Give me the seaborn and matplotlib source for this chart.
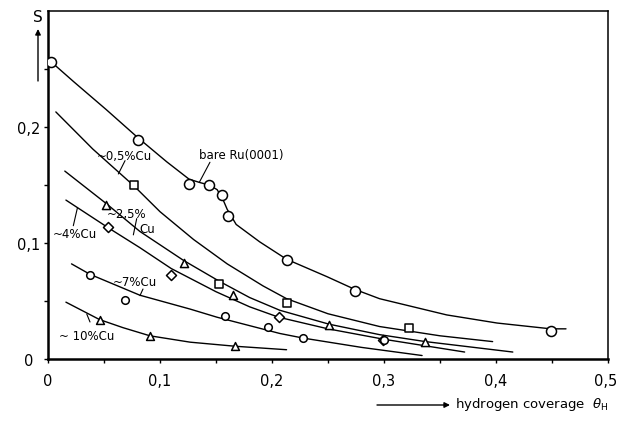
import matplotlib
matplotlib.use("Agg")
import matplotlib.pyplot as plt
import matplotlib.transforms as mtransforms
import seaborn as sns

# ---- measured points (hydrogen coverage, sticking coefficient S) ----
bare_x = [0.003, 0.080, 0.126, 0.144, 0.155, 0.161, 0.213, 0.274, 0.449]
bare_y = [0.256, 0.189, 0.151, 0.150, 0.141, 0.123, 0.085, 0.059, 0.024]

cu05_x = [0.077, 0.153, 0.213, 0.322]
cu05_y = [0.150, 0.065, 0.048, 0.027]

cu25_x = [0.052, 0.121, 0.165, 0.251, 0.337]
cu25_y = [0.133, 0.083, 0.055, 0.029, 0.015]

cu4_x = [0.054, 0.110, 0.206, 0.299]
cu4_y = [0.1135, 0.072, 0.036, 0.016]

cu7_x = [0.0375, 0.069, 0.158, 0.196, 0.228, 0.300]
cu7_y = [0.072, 0.051, 0.037, 0.028, 0.018, 0.016]

cu10_x = [0.046, 0.091, 0.167]
cu10_y = [0.034, 0.020, 0.0115]

# ---- hand-fitted guide curves ----
bare_fit_x = [0.003, 0.023, 0.052, 0.080, 0.106, 0.126, 0.136, 0.144, 0.151, 0.156,
              0.160, 0.168, 0.189, 0.213, 0.249, 0.274, 0.296, 0.356, 0.401, 0.449, 0.4625]
bare_fit_y = [0.256, 0.239, 0.215, 0.191, 0.170, 0.155, 0.152, 0.150, 0.146, 0.138,
              0.129, 0.116, 0.101, 0.086, 0.071, 0.060, 0.052, 0.038, 0.031, 0.026, 0.026]

cu05_fit_x = [0.007, 0.040, 0.077, 0.100, 0.130, 0.160, 0.192, 0.213, 0.250, 0.296, 0.350, 0.397]
cu05_fit_y = [0.213, 0.181, 0.149, 0.127, 0.103, 0.082, 0.063, 0.052, 0.039, 0.028, 0.020, 0.015]

cu25_fit_x = [0.015, 0.052, 0.082, 0.121, 0.153, 0.180, 0.207, 0.251, 0.296, 0.337, 0.415]
cu25_fit_y = [0.162, 0.134, 0.110, 0.085, 0.067, 0.053, 0.042, 0.030, 0.021, 0.015, 0.006]

cu4_fit_x = [0.016, 0.054, 0.082, 0.110, 0.150, 0.180, 0.206, 0.250, 0.300, 0.372]
cu4_fit_y = [0.137, 0.113, 0.096, 0.078, 0.058, 0.045, 0.036, 0.026, 0.017, 0.006]

cu7_fit_x = [0.021, 0.0375, 0.082, 0.127, 0.151, 0.171, 0.207, 0.228, 0.280, 0.334]
cu7_fit_y = [0.082, 0.073, 0.055, 0.043, 0.036, 0.031, 0.022, 0.018, 0.010, 0.003]

cu10_fit_x = [0.016, 0.046, 0.067, 0.091, 0.127, 0.167, 0.213]
cu10_fit_y = [0.049, 0.034, 0.027, 0.020, 0.0145, 0.0110, 0.008]

x_ticklabels = ["0", "0,1", "0,2", "0,3", "0,4", "0,5"]
y_ticklabels = ["0", "0,1", "0,2"]

sns.set_theme(style="ticks")
plt.rcParams["font.family"] = ["DejaVu Sans"]
plt.rcParams["text.color"] = "black"

W, H = 618, 427
fig = plt.figure(figsize=(W / 100, H / 100), dpi=100)
ax = fig.add_axes([48 / W, 1 - 360 / H, 560 / W, 348 / H])
ax.set_facecolor("white")

# guide curves
for fx, fy in [(bare_fit_x, bare_fit_y), (cu05_fit_x, cu05_fit_y), (cu25_fit_x, cu25_fit_y),
               (cu4_fit_x, cu4_fit_y), (cu7_fit_x, cu7_fit_y), (cu10_fit_x, cu10_fit_y)]:
    sns.lineplot(x=fx, y=fy, ax=ax, color="black", lw=1.0, sort=False,
                 estimator=None, legend=False, zorder=2)

# measured points, open symbols
series = [
    (bare_x, bare_y, "o", 52),
    (cu05_x, cu05_y, "s", 28),
    (cu25_x, cu25_y, "^", 34),
    (cu4_x, cu4_y, "D", 26),
    (cu7_x, cu7_y, "o", 30),
    (cu10_x, cu10_y, "^", 32),
]
for sx, sy, mk, sz in series:
    sns.scatterplot(x=sx, y=sy, ax=ax, marker=mk, s=sz, facecolor="white",
                    edgecolor="black", linewidth=1.1, legend=False, zorder=3)

ax.set_xlim(0, 0.5)
ax.set_ylim(0, 0.30)

ax.set_xticks([i * 0.05 for i in range(11)])
ax.set_xticklabels([x_ticklabels[i // 2] if i % 2 == 0 else "" for i in range(11)])
ax.set_yticks([i * 0.05 for i in range(6)])
ax.set_yticklabels([y_ticklabels[i // 2] if (i % 2 == 0 and i // 2 < len(y_ticklabels)) else ""
                    for i in range(6)])
ax.tick_params(axis="both", direction="out", length=3, width=1.0, colors="black",
               labelsize=10.5)
ax.tick_params(axis="x", pad=7)
ax.tick_params(axis="y", pad=11)
for t in ax.get_yticklabels():
    t.set_horizontalalignment("center")
# keep the last x label inside the canvas
last = ax.get_xticklabels()[-1]
last.set_horizontalalignment("right")
last.set_transform(last.get_transform() + mtransforms.ScaledTranslation(0.09, 0, fig.dpi_scale_trans))

for side in ["left", "bottom"]:
    ax.spines[side].set_linewidth(1.8)
for side in ["top", "right"]:
    ax.spines[side].set_visible(True)
    ax.spines[side].set_linewidth(1.1)
for sp in ax.spines.values():
    sp.set_color("black")
ax.set_xlabel("")
ax.set_ylabel("")

# curve labels with leader strokes
fs = 8.5
ax.text(0.1729, 0.176, "bare Ru(0001)", fontsize=fs, ha="center", va="center")
ax.plot([0.1446, 0.1351], [0.1696, 0.1523], color="black", lw=0.8)

ax.text(0.0679, 0.1753, "~0,5%Cu", fontsize=fs, ha="center", va="center")
ax.plot([0.0688, 0.0628], [0.171, 0.1595], color="black", lw=0.8)

ax.text(0.0701, 0.125, "~2,5%", fontsize=fs, ha="center", va="center")
ax.text(0.0890, 0.1129, "Cu", fontsize=fs, ha="center", va="center")
ax.plot([0.0792, 0.0762], [0.121, 0.107], color="black", lw=0.8)

ax.text(0.0241, 0.1078, "~4%Cu", fontsize=fs, ha="center", va="center")
ax.plot([0.0262, 0.0226], [0.130, 0.1149], color="black", lw=0.8)

ax.text(0.0777, 0.0664, "~7%Cu", fontsize=fs, ha="center", va="center")
ax.plot([0.0848, 0.0821], [0.0603, 0.0546], color="black", lw=0.8)

ax.text(0.0344, 0.0201, "~ 10%Cu", fontsize=fs, ha="center", va="center")
ax.plot([0.0346, 0.0375], [0.0388, 0.0319], color="black", lw=0.8)

# axis titles with arrows
fig.text(38 / W, 1 - 18 / H, "S", fontsize=11, ha="center", va="center")
ax.annotate("", xy=(38 / W, 1 - 30 / H), xytext=(38 / W, 1 - 82 / H),
            xycoords="figure fraction", textcoords="figure fraction",
            arrowprops=dict(arrowstyle="-|>", lw=1.0, color="black",
                            mutation_scale=8, shrinkA=0, shrinkB=0))
ax.annotate("", xy=(450 / W, 1 - 406 / H), xytext=(377 / W, 1 - 406 / H),
            xycoords="figure fraction", textcoords="figure fraction",
            arrowprops=dict(arrowstyle="-|>", lw=1.0, color="black",
                            mutation_scale=8, shrinkA=0, shrinkB=0))
fig.text(455 / W, 1 - 405 / H, r"hydrogen coverage  $\theta_\mathrm{H}$",
         fontsize=9.5, ha="left", va="center")

fig.savefig("out.png", dpi=100, facecolor="white")
